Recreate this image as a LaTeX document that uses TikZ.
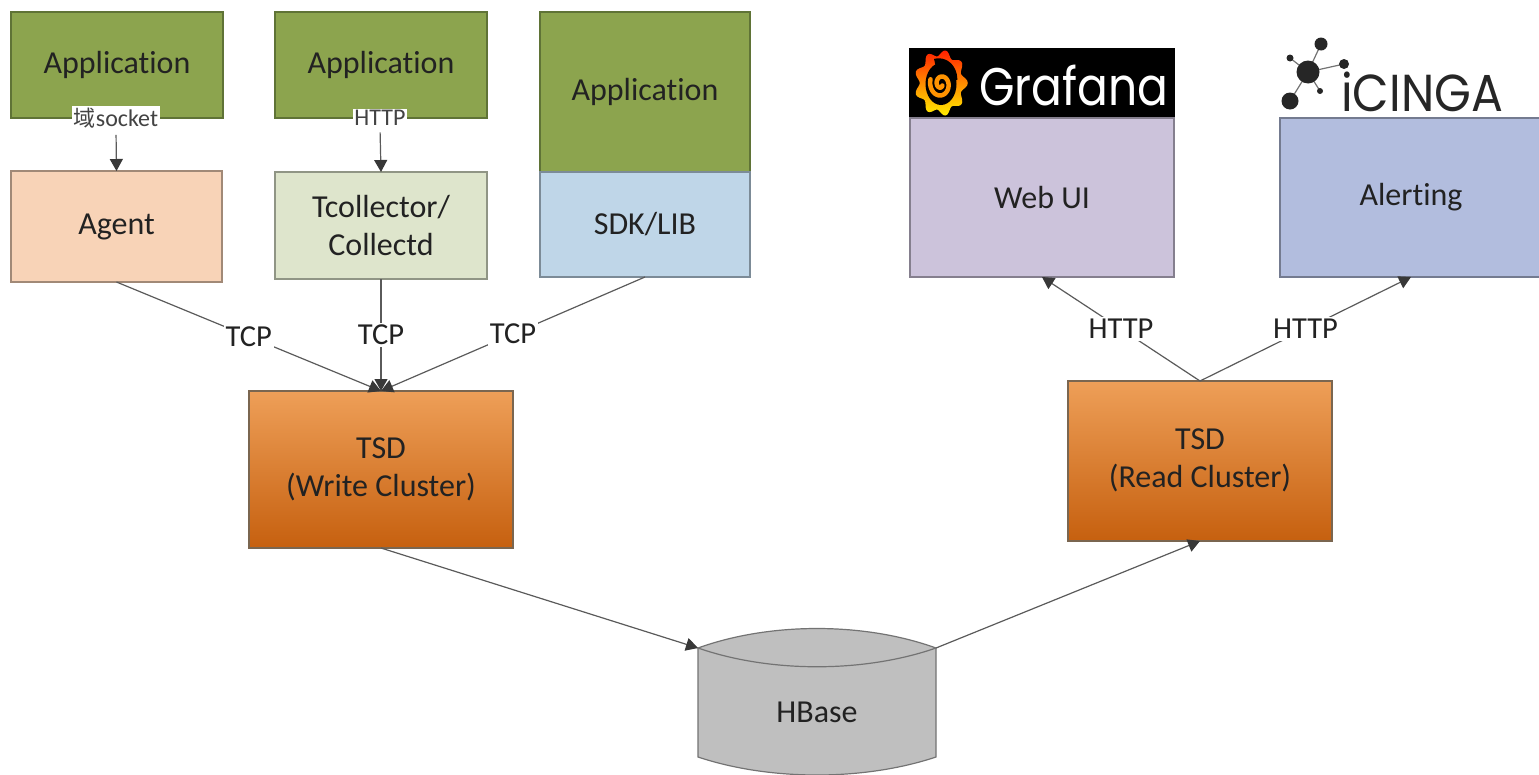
\documentclass[tikz,border=0pt]{standalone}
\usepackage{fontspec}
\setmainfont[Ligatures=NoCommon]{Carlito}
\newfontfamily\cjk{Noto Sans CJK SC}
\newfontfamily\logofont{Poppins}
\usetikzlibrary{arrows.meta,shapes.geometric}
\definecolor{appgreen}{HTML}{8CA44E}
\definecolor{edgegreen}{HTML}{5F7336}
\definecolor{agentfill}{HTML}{F8D3B7}
\definecolor{tcfill}{HTML}{DEE5CC}
\definecolor{sdkfill}{HTML}{BFD6E8}
\definecolor{webfill}{HTML}{CCC3DB}
\definecolor{alertfill}{HTML}{B2BDDE}
\definecolor{line}{HTML}{5A5A5A}
\definecolor{ink}{HTML}{222222}
\definecolor{tsdtop}{HTML}{EE9F58}
\definecolor{tsdbot}{HTML}{C6600F}
\definecolor{tsdedge}{HTML}{7A6650}
\tikzset{
  x=1pt,y=-1pt,
  boxbase/.style={anchor=north west,inner sep=0,outer sep=0,align=center,text=ink,line width=1.2pt,
    font=\fontsize{32}{38}\selectfont},
  appbox/.style={boxbase,draw=edgegreen,fill=appgreen},
  lightbox/.style={boxbase,draw=#1!65!black,fill=#1},
  tsdbox/.style={boxbase,draw=tsdedge,top color=tsdtop,bottom color=tsdbot},
  conn/.style={draw=line,line width=1.2pt},
  arr/.style={conn,-{Triangle[length=12pt,width=13pt,color=ink!90]}},
  lab/.style={fill=white,inner sep=2pt,text=ink,font=\fontsize{30.5}{34}\selectfont},
  smalllab/.style={fill=white,inner sep=1.5pt,text=ink!85,font=\fontsize{24}{27}\selectfont},
}
\begin{document}
\begin{tikzpicture}
\useasboundingbox (0,0) rectangle (1539,774);
% boxes
\node[appbox,minimum width=212pt,minimum height=106pt] (app1) at (11,12) {\raisebox{4pt}{Application}};
\node[appbox,minimum width=212pt,minimum height=106pt] (app2) at (275,12) {\raisebox{4pt}{Application}};
\node[appbox,minimum width=210pt,minimum height=160pt] (app3) at (540,12) {Application};
\node[lightbox=sdkfill,minimum width=210pt,minimum height=105pt] (sdk) at (540,172) {SDK/LIB};
\node[lightbox=agentfill,minimum width=211pt,minimum height=111pt] (agent) at (11,171) {Agent};
\node[lightbox=tcfill,minimum width=212pt,minimum height=107pt] (tc) at (275,172) {Tcollector/\\Collectd};
\node[boxbase,draw=black,fill=black,minimum width=264pt,minimum height=69pt] (gbar) at (910,49) {};
\node[lightbox=webfill,minimum width=264pt,minimum height=159pt] (web) at (910,118) {Web UI};
\node[lightbox=alertfill,minimum width=262pt,minimum height=159pt] (alert) at (1280,118) {\raisebox{-2pt}{Alerting}};
\node[tsdbox,minimum width=264pt,minimum height=157pt] (tsdw) at (249,391) {\raisebox{-2pt}{\begin{tabular}{@{}c@{}}TSD\\(Write Cluster)\end{tabular}}};
\node[tsdbox,minimum width=264pt,minimum height=160pt] (tsdr) at (1068,381) {\raisebox{-3pt}{\begin{tabular}{@{}c@{}}TSD\\(Read Cluster)\end{tabular}}};
% HBase
\coordinate (hbl) at (698,648);
\coordinate (hbr) at (936,648);
\fill[black!25] (hbl) .. controls (770,622) and (864,622) .. (hbr) -- (936,757) .. controls (864,781) and (770,781) .. (698,757) -- cycle;
\draw[line width=1.2pt,draw=black!55] (hbl) -- (698,757) .. controls (770,781) and (864,781) .. (936,757) -- (hbr)
   .. controls (864,622) and (770,622) .. (hbl) .. controls (770,673) and (864,673) .. (hbr);
\node[font=\fontsize{32}{38}\selectfont,text=ink] (hb) at (817,712) {HBase};
% small labels
\node[smalllab] (l1) at (116,118) {{\cjk\fontsize{22}{27}\selectfont 域}socket};
\node[smalllab] (l2) at (380,118) {HTTP};
\draw[arr,shorten <=5pt] (l1.south) -- (agent.north);
\draw[arr,shorten <=5pt] (l2.south) -- (tc.north);
% connectors
\draw[arr] (agent.south) -- node[lab,pos=.5] (t1) {TCP} (tsdw.north);
\draw[arr] (tc.south) -- node[lab,pos=.5] (t2) {TCP} (tsdw.north);
\draw[arr] (sdk.south) -- node[lab,pos=.5] (t3) {TCP} (tsdw.north);
\draw[arr] (tsdr.north) -- node[lab,pos=.5] (h1) {HTTP} (web.south);
\draw[arr] (tsdr.north) -- node[lab,pos=.5] (h2) {HTTP} (alert.south);
\draw[arr] (tsdw.south) -- (hbl);
\draw[arr] (hbr) -- (tsdr.south);
% Grafana logo
\begin{scope}[shift={(941,83)}]
  \shade[top color=red!75!orange,bottom color=yellow!85!orange,middle color=orange!90!yellow]
    plot[smooth cycle,samples=90,domain=0:356,variable=\a] ({(24+2.8*cos(9*\a))*cos(\a)},{(30+3*cos(9*\a))*sin(\a)});
  \fill[black] (0,1) ellipse (15.5 and 21);
  \draw[black,line width=6pt] plot[smooth,samples=14,domain=-110:-10,variable=\a] ({(13+\a/-20)*cos(\a)},{(17+\a/-20)*sin(\a)});
  \draw[orange!85!yellow,line width=4.5pt,line cap=round] plot[smooth,samples=50,domain=40:560,variable=\a] ({(1+\a/55)*cos(\a)},{1+(1.4+\a/45)*sin(\a)});
\end{scope}
\node[text=white,anchor=base west,inner sep=0,font=\logofont\fontsize{53}{60}\selectfont] (gt) at (979,105) {\scalebox{0.86}[1]{Grafana}};
% Icinga logo
\coordinate (ic) at (1308,72);
\coordinate (ic1) at (1321,44);
\coordinate (ic2) at (1344,64);
\coordinate (ic3) at (1290,101);
\coordinate (ic4) at (1290,58);
\coordinate (ic5) at (1320,91);
\draw[black!55,line width=1.2pt] (ic) -- (ic1) (ic) -- (ic2) (ic) -- (ic3) (ic) -- (ic4) (ic) -- (ic5);
\fill[black!85] (ic) circle (11.5) (ic1) circle (6.5) (ic2) circle (5) (ic3) circle (8.5) (ic4) circle (3.5) (ic5) circle (3);
\node[text=black!85,anchor=base west,inner sep=0,font=\logofont\fontsize{52}{60}\selectfont] (it) at (1341,111) {\scalebox{0.91}[1]{iCINGA}};
\end{tikzpicture}
\end{document}
